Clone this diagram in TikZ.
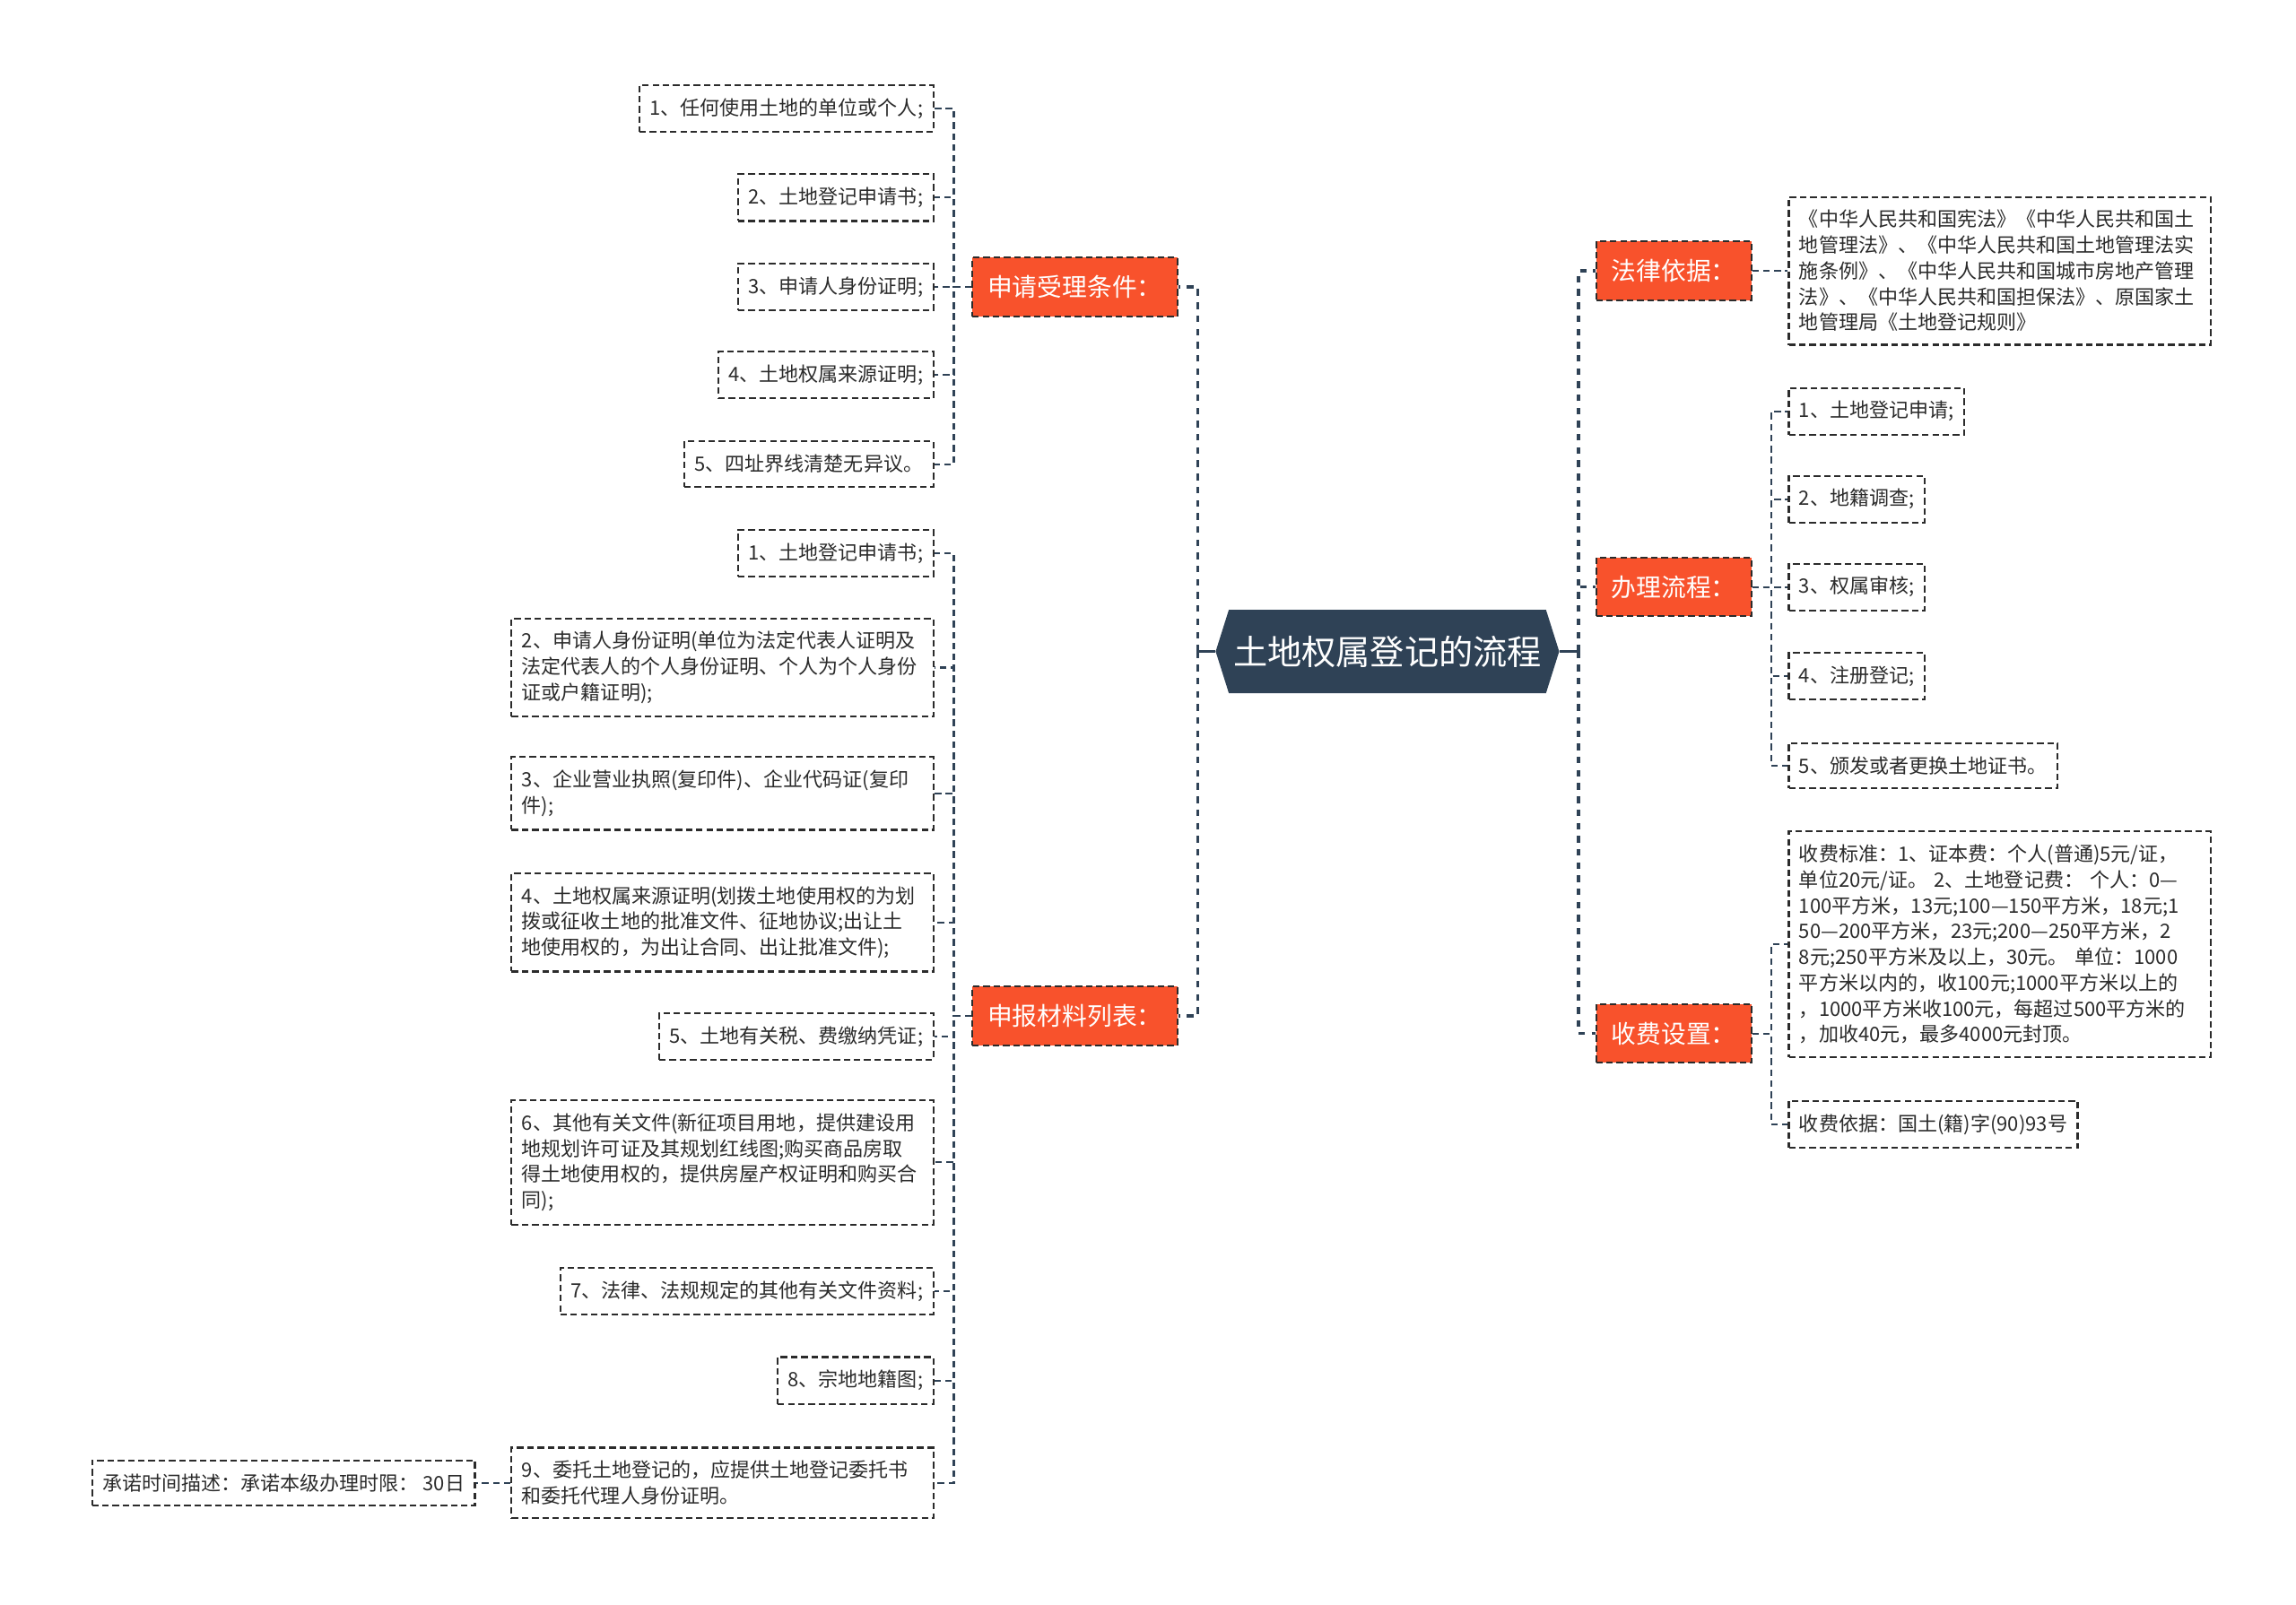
\documentclass[tikz,border=0pt]{standalone}
\usepackage{fontspec}
\setmainfont{Noto Sans CJK SC}
\usepackage{tikz}
\usetikzlibrary{positioning,shapes.symbols}
\definecolor{inkSlate}{HTML}{2F4256}
\definecolor{flagRed}{HTML}{F8522C}
\definecolor{leafInk}{HTML}{2B2B2B}

\begin{document}
\begin{tikzpicture}[x=1pt, y=-1pt,
    every node/.style={font=\fontsize{13.5}{17.6}\selectfont, text=leafInk},
    leaf/.style={draw=leafInk, dash pattern=on 4.5pt off 2.5pt, line width=1.3pt, inner xsep=7pt, inner ysep=9pt, minimum height=31pt, align=left},
    wideleaf/.style={leaf, text width=274pt},
    branch/.style={draw=leafInk, fill=flagRed, dash pattern=on 4.5pt off 2.5pt, line width=1.3pt, text=white, font=\fontsize{17}{20}\selectfont, minimum height=40pt, inner xsep=10.5pt},
    root/.style={signal, signal to=west and east, signal pointer angle=145, fill=inkSlate, text=white, font=\fontsize{23.4}{28}\selectfont, minimum height=57pt, inner xsep=3pt},
    trunk/.style={draw=inkSlate, line width=2pt},
    limb/.style={trunk, dash pattern=on 4.5pt off 4.5pt},
    twig/.style={draw=inkSlate, line width=1.3pt, dash pattern=on 4.5pt off 3pt}]
    \useasboundingbox (0,0) rectangle (1568,1096);

    \node[root] (flow) at (947.5,445) {土地权属登记的流程};
    \coordinate (lhub) at (818,445);
    \coordinate (rhub) at (1078,445);

    % left branches
    \node[branch] (accept) at (734,196) {申请受理条件：};
    \node[branch] (papers) at (734,694) {申报材料列表：};
    % right branches
    \node[branch] (law) at (1143,185) {法律依据：};
    \node[branch] (steps) at (1143,401) {办理流程：};
    \node[branch] (fees) at (1143,706) {收费设置：};

    % 申请受理条件
    \node[leaf, anchor=east] (acc1) at (638,74) {1、任何使用土地的单位或个人;};
    \node[leaf, anchor=east] (acc2) at (638,135) {2、土地登记申请书;};
    \node[leaf, anchor=east] (acc3) at (638,196) {3、申请人身份证明;};
    \node[leaf, anchor=east] (acc4) at (638,256) {4、土地权属来源证明;};
    \node[leaf, anchor=east] (acc5) at (638,317) {5、四址界线清楚无异议。};

    % 申报材料列表
    \node[leaf, anchor=east] (pap1) at (638,378) {1、土地登记申请书;};
    \node[wideleaf, anchor=east] (pap2) at (638,456) {2、申请人身份证明(单位为法定代表人证明及\\法定代表人的个人身份证明、个人为个人身份\\证或户籍证明);};
    \node[wideleaf, anchor=east] (pap3) at (638,542) {3、企业营业执照(复印件)、企业代码证(复印\\件);};
    \node[wideleaf, anchor=east] (pap4) at (638,630) {4、土地权属来源证明(划拨土地使用权的为划\\拨或征收土地的批准文件、征地协议;出让土\\地使用权的，为出让合同、出让批准文件);};
    \node[leaf, anchor=east] (pap5) at (638,708) {5、土地有关税、费缴纳凭证;};
    \node[wideleaf, anchor=east] (pap6) at (638,794) {6、其他有关文件(新征项目用地，提供建设用\\地规划许可证及其规划红线图;购买商品房取\\得土地使用权的，提供房屋产权证明和购买合\\同);};
    \node[leaf, anchor=east] (pap7) at (638,882) {7、法律、法规规定的其他有关文件资料;};
    \node[leaf, anchor=east] (pap8) at (638,943) {8、宗地地籍图;};
    \node[wideleaf, anchor=east] (pap9) at (638,1013) {9、委托土地登记的，应提供土地登记委托书\\和委托代理人身份证明。};
    \node[leaf, anchor=east] (promise) at (325,1013) {承诺时间描述：承诺本级办理时限： 30日};

    % 法律依据
    \node[wideleaf, anchor=west] (lawtext) at (1221,185) {《中华人民共和国宪法》《中华人民共和国土\\地管理法》、《中华人民共和国土地管理法实\\施条例》、《中华人民共和国城市房地产管理\\法》、《中华人民共和国担保法》、原国家土\\地管理局《土地登记规则》};

    % 办理流程
    \node[leaf, anchor=west] (st1) at (1221,281) {1、土地登记申请;};
    \node[leaf, anchor=west] (st2) at (1221,341) {2、地籍调查;};
    \node[leaf, anchor=west] (st3) at (1221,401) {3、权属审核;};
    \node[leaf, anchor=west] (st4) at (1221,462) {4、注册登记;};
    \node[leaf, anchor=west] (st5) at (1221,523) {5、颁发或者更换土地证书。};

    % 收费设置
    \node[wideleaf, anchor=west] (fee1) at (1221,645) {收费标准：1、证本费：个人(普通)5元/证，\\单位20元/证。 2、土地登记费： 个人：0—\\100平方米，13元;100—150平方米，18元;1\\50—200平方米，23元;200—250平方米，2\\8元;250平方米及以上，30元。 单位：1000\\平方米以内的，收100元;1000平方米以上的\\，1000平方米收100元，每超过500平方米的\\，加收40元，最多4000元封顶。};
    \node[leaf, anchor=west] (fee2) at (1221,768) {收费依据：国土(籍)字(90)93号};

    % connectors from the root
    \draw[trunk] (flow.west) -- (lhub);
    \draw[trunk] (flow.east) -- (rhub);
    \draw[limb] (lhub) |- (accept.east);
    \draw[limb] (lhub) |- (papers.east);
    \draw[limb] (rhub) |- (law.west);
    \draw[limb] (rhub) |- (steps.west);
    \draw[limb] (rhub) |- (fees.west);

    % connectors to the leaves
    \draw[twig] (accept.west) -- ++(-12,0) |- (acc1.east);
    \draw[twig] (accept.west) -- ++(-12,0) |- (acc2.east);
    \draw[twig] (accept.west) -- (acc3.east);
    \draw[twig] (accept.west) -- ++(-12,0) |- (acc4.east);
    \draw[twig] (accept.west) -- ++(-12,0) |- (acc5.east);
    \draw[twig] (papers.west) -- ++(-12,0) |- (pap1.east);
    \draw[twig] (papers.west) -- ++(-12,0) |- (pap2.east);
    \draw[twig] (papers.west) -- ++(-12,0) |- (pap3.east);
    \draw[twig] (papers.west) -- ++(-12,0) |- (pap4.east);
    \draw[twig] (papers.west) -- ++(-12,0) |- (pap5.east);
    \draw[twig] (papers.west) -- ++(-12,0) |- (pap6.east);
    \draw[twig] (papers.west) -- ++(-12,0) |- (pap7.east);
    \draw[twig] (papers.west) -- ++(-12,0) |- (pap8.east);
    \draw[twig] (papers.west) -- ++(-12,0) |- (pap9.east);
    \draw[twig] (pap9.west) -- (promise.east);
    \draw[twig] (law.east) -- (lawtext.west);
    \draw[twig] (steps.east) -- ++(13,0) |- (st1.west);
    \draw[twig] (steps.east) -- ++(13,0) |- (st2.west);
    \draw[twig] (steps.east) -- (st3.west);
    \draw[twig] (steps.east) -- ++(13,0) |- (st4.west);
    \draw[twig] (steps.east) -- ++(13,0) |- (st5.west);
    \draw[twig] (fees.east) -- ++(13,0) |- (fee1.west);
    \draw[twig] (fees.east) -- ++(13,0) |- (fee2.west);
\end{tikzpicture}
\end{document}
